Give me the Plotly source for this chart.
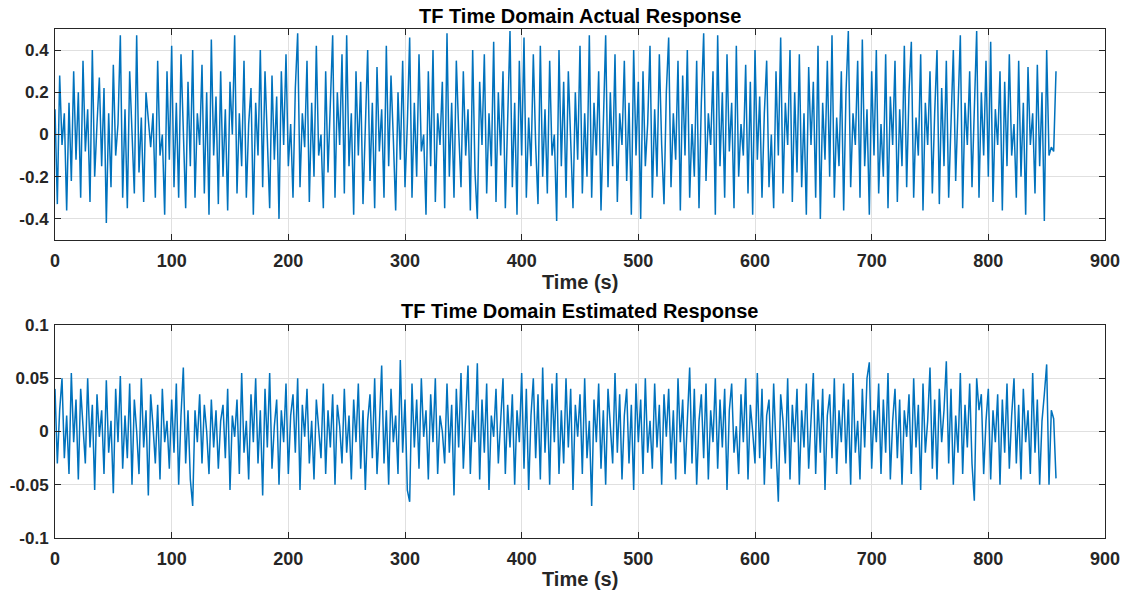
import plotly.graph_objects as go

# time stamps (s)
time_s = list(range(0, 860, 2))

actual = [
 0.12, -0.33, 0.28, -0.05, 0.1, -0.36, 0.15, -0.22, 0.3, -0.12,
 0.2, -0.3, 0.35, -0.08, 0.12, -0.32, 0.4, -0.2, 0.05, 0.27,
 -0.15, 0.22, -0.42, 0.1, -0.25, 0.33, -0.1, 0.05, 0.47, -0.3,
 0.12, -0.35, 0.3, -0.02, -0.28, 0.47, -0.18, 0.08, -0.32, 0.2,
 0.05, -0.06, 0.1, -0.3, 0.35, -0.1, 0.0, -0.38, 0.3, -0.12,
 0.42, -0.25, 0.15, -0.3, 0.38, -0.05, -0.35, 0.25, -0.15, 0.4,
 -0.3, 0.1, -0.05, 0.33, -0.28, 0.2, -0.38, 0.45, -0.1, 0.18,
 -0.33, 0.3, -0.2, 0.12, -0.36, 0.25, 0.0, 0.47, -0.28, 0.1,
 -0.15, 0.35, -0.3, 0.05, 0.22, -0.38, 0.15, -0.1, 0.4, -0.25,
 0.3, -0.02, -0.35, 0.28, -0.12, 0.18, -0.4, 0.3, -0.05, 0.38,
 -0.15, 0.05, -0.3, 0.22, 0.48, -0.25, 0.1, -0.06, 0.35, -0.32,
 0.15, -0.2, 0.42, -0.1, 0.0, -0.35, 0.3, -0.18, 0.12, 0.47,
 -0.3, 0.2, -0.05, 0.38, -0.28, 0.47, -0.15, 0.1, -0.38, 0.3,
 -0.1, 0.25, -0.33, 0.05, 0.4, -0.22, 0.15, -0.35, 0.32, -0.08,
 0.12, -0.3, 0.42, -0.15, 0.28, -0.02, -0.36, 0.2, -0.12, 0.35,
 -0.25, 0.05, 0.46, -0.3, 0.15, -0.2, 0.38, -0.08, 0.0, -0.38,
 0.3, -0.15, 0.4, -0.32, 0.1, -0.05, 0.25, -0.35, 0.48, -0.2,
 0.15, -0.3, 0.35, 0.02, -0.25, 0.3, -0.1, 0.12, -0.36, 0.4,
 -0.18, -0.4, 0.25, -0.05, 0.38, -0.28, 0.1, -0.15, 0.44, -0.32,
 0.2, -0.1, 0.3, -0.35, 0.05, 0.49, -0.25, 0.15, -0.38, 0.35,
 -0.1, 0.46, -0.3, 0.08, -0.15, 0.38, -0.05, -0.33, 0.42, -0.2,
 0.12, -0.28, 0.35, -0.1, 0.0, -0.41, 0.4, -0.15, 0.25, -0.3,
 0.3, -0.05, -0.35, 0.2, -0.12, 0.42, -0.28, 0.1, -0.2, 0.47,
 -0.3, 0.15, -0.1, 0.3, -0.36, 0.05, 0.47, -0.25, 0.2, -0.15,
 0.38, -0.32, 0.1, -0.05, 0.35, -0.22, 0.15, -0.38, 0.4, -0.1,
 0.25, -0.4, 0.3, -0.15, 0.05, 0.42, -0.3, 0.12, -0.2, 0.38,
 -0.05, -0.33, 0.2, 0.46, -0.25, 0.1, -0.12, 0.35, -0.36, 0.28,
 -0.1, 0.4, -0.3, 0.05, -0.2, 0.35, -0.35, 0.15, 0.48, -0.22,
 0.1, -0.05, 0.3, -0.38, 0.47, -0.15, 0.2, -0.3, 0.38, -0.08,
 0.15, -0.35, 0.42, -0.2, 0.05, -0.1, 0.33, -0.28, 0.25, -0.38,
 0.4, -0.12, 0.18, -0.3, 0.1, 0.35, -0.25, 0.0, -0.35, 0.3,
 -0.1, 0.46, -0.28, 0.15, -0.05, 0.4, -0.32, 0.2, -0.18, 0.38,
 -0.25, 0.1, -0.38, 0.32, -0.05, 0.25, -0.3, 0.42, -0.4, 0.15,
 -0.12, 0.35, -0.2, 0.47, -0.3, 0.08, -0.15, 0.3, -0.36, 0.2,
 0.49, -0.25, 0.1, -0.05, 0.35, -0.3, 0.45, -0.15, 0.12, -0.38,
 0.3, -0.1, 0.4, -0.28, 0.05, -0.2, 0.38, -0.35, 0.18, -0.05,
 0.35, -0.32, 0.12, -0.15, 0.42, -0.25, 0.2, 0.44, -0.3, 0.08,
 -0.1, 0.38, -0.36, 0.15, -0.05, 0.3, -0.28, 0.1, 0.4, -0.33,
 0.22, -0.15, 0.35, -0.3, 0.05, 0.4, -0.22, 0.12, 0.47, -0.35,
 0.15, -0.05, 0.3, -0.25, 0.1, 0.49, -0.3, 0.2, -0.1, 0.35,
 -0.2, 0.44, -0.32, 0.12, -0.05, 0.3, -0.36, 0.25, -0.15, 0.38,
 -0.1, 0.05, -0.3, 0.35, -0.2, 0.15, -0.38, 0.32, -0.05, 0.1,
 -0.28, 0.33, -0.15, 0.2, -0.41, 0.4, -0.1, -0.06, -0.08, 0.3,
]

estimated = [
 0.04, -0.03, 0.02, 0.05, -0.025, 0.015, -0.04, 0.055, -0.01, 0.03,
 -0.045, 0.04, 0.005, -0.03, 0.05, -0.015, 0.025, -0.055, 0.035, -0.005,
 0.02, -0.04, 0.048, -0.02, 0.01, -0.058, 0.04, -0.01, 0.052, -0.035,
 0.015, -0.025, 0.045, -0.05, 0.03, 0.0, -0.04, 0.05, -0.015, 0.02,
 -0.06, 0.035, 0.005, -0.03, 0.025, -0.045, 0.04, -0.01, 0.01, -0.035,
 0.03, -0.02, 0.045, -0.05, 0.015, 0.06, -0.03, 0.02, -0.045, -0.07,
 0.02, -0.01, 0.035, -0.03, 0.025, 0.0, -0.04, 0.03, -0.015, 0.02,
 -0.035, 0.01, 0.025, -0.025, 0.04, -0.055, 0.015, -0.005, 0.03, -0.04,
 0.055, -0.02, 0.01, -0.045, 0.035, -0.01, 0.05, -0.03, 0.02, -0.06,
 0.04, -0.015, 0.055, -0.035, 0.005, 0.03, -0.05, 0.02, -0.01, 0.045,
 -0.04, 0.015, 0.035, -0.02, 0.05, -0.055, 0.025, -0.005, 0.04, -0.03,
 0.01, -0.045, 0.03, 0.0, -0.025, 0.045, -0.04, 0.02, -0.015, 0.035,
 -0.05, 0.025, 0.005, -0.03, 0.04, -0.02, 0.015, -0.045, 0.03, -0.01,
 0.045, -0.035, 0.02, -0.055, 0.01, 0.035, -0.025, 0.05, -0.04, 0.005,
 0.062, -0.03, 0.02, -0.05, 0.04, -0.01, 0.015, -0.04, 0.067, -0.02,
 0.03, -0.055, -0.066, 0.045, -0.015, 0.03, -0.035, 0.05, -0.005, 0.02,
 -0.045, 0.035, -0.01, 0.05, -0.04, 0.015, 0.0, -0.03, 0.045, -0.02,
 0.025, -0.06, 0.04, -0.015, 0.055, -0.035, 0.01, 0.062, -0.04, 0.02,
 -0.01, 0.064, -0.045, 0.03, -0.02, 0.045, -0.055, 0.015, -0.005, 0.04,
 -0.03, 0.01, 0.05, -0.04, 0.025, -0.015, 0.035, -0.05, 0.02, -0.01,
 0.055, -0.035, 0.04, -0.055, 0.015, 0.05, -0.025, 0.035, -0.045, 0.06,
 -0.02, 0.03, -0.05, 0.045, -0.01, 0.055, -0.04, 0.02, -0.03, 0.05,
 -0.015, 0.04, -0.055, 0.025, -0.005, 0.035, -0.04, 0.05, -0.025, 0.01,
 -0.07, 0.03, -0.01, 0.045, -0.035, 0.02, -0.05, 0.04, 0.0, -0.03,
 0.055, -0.02, 0.035, -0.045, 0.015, 0.04, -0.03, 0.025, -0.055, 0.045,
 -0.01, 0.03, -0.04, 0.05, -0.02, 0.01, -0.035, 0.045, -0.015, 0.025,
 -0.05, 0.035, -0.005, 0.04, -0.03, 0.02, -0.045, 0.05, -0.01, 0.03,
 -0.04, 0.015, 0.06, -0.03, 0.04, -0.05, 0.01, 0.035, -0.025, 0.045,
 -0.045, 0.02, -0.01, 0.05, -0.035, 0.03, -0.015, 0.04, -0.055, 0.02,
 0.045, -0.02, 0.005, -0.04, 0.035, -0.01, 0.05, -0.045, 0.025, 0.0,
 -0.03, 0.055, -0.025, 0.04, -0.05, 0.015, 0.03, -0.035, 0.045, -0.015,
 -0.066, 0.035, 0.01, -0.03, 0.05, -0.045, 0.025, -0.01, 0.04, -0.05,
 0.02, -0.015, 0.045, -0.035, 0.01, 0.055, -0.04, 0.03, -0.02, 0.04,
 -0.055, 0.015, 0.035, -0.025, 0.05, -0.04, 0.02, -0.01, 0.045, -0.03,
 0.03, -0.05, 0.055, -0.02, 0.01, -0.045, 0.04, -0.015, 0.05, 0.065,
 -0.035, 0.02, -0.01, 0.045, -0.04, 0.03, -0.02, 0.055, -0.045, 0.01,
 0.04, -0.025, 0.03, -0.05, 0.02, -0.005, 0.035, -0.04, 0.05, -0.015,
 0.025, -0.055, 0.045, -0.02, 0.01, 0.06, -0.035, 0.03, -0.045, 0.04,
 -0.01, 0.02, 0.066, -0.03, 0.04, -0.05, 0.015, -0.02, 0.055, -0.04,
 0.025, -0.015, 0.045, -0.03, -0.065, 0.05, 0.02, 0.035, -0.04, 0.01,
 0.04, -0.045, 0.02, -0.01, 0.035, -0.05, 0.03, -0.02, 0.045, -0.035,
 0.015, 0.05, -0.03, 0.025, -0.045, 0.04, -0.01, 0.02, -0.04, 0.055,
 -0.02, 0.03, -0.05, 0.01, 0.035, 0.063, -0.05, 0.02, 0.012, -0.044,
]

x_ticks = [0, 100, 200, 300, 400, 500, 600, 700, 800, 900]
y1_ticks = [-0.4, -0.2, 0, 0.2, 0.4]
y1_labels = ["-0.4", "-0.2", "0", "0.2", "0.4"]
y2_ticks = [-0.1, -0.05, 0, 0.05, 0.1]
y2_labels = ["-0.1", "-0.05", "0", "0.05", "0.1"]

titles = ["TF Time Domain Actual Response", "TF Time Domain Estimated Response"]
xlabel = "Time (s)"

LINE = "#0072BD"
AX = "#262626"
GRID = "#e0e0e0"
FONT = "Liberation Sans, Arial, sans-serif"

fig = go.Figure()
fig.add_trace(go.Scatter(x=time_s, y=actual, mode="lines",
                         line=dict(color=LINE, width=1.5),
                         xaxis="x", yaxis="y", showlegend=False))
fig.add_trace(go.Scatter(x=time_s, y=estimated, mode="lines",
                         line=dict(color=LINE, width=1.5),
                         xaxis="x2", yaxis="y2", showlegend=False))


def axis_style(size):
    return dict(showline=True, linecolor=AX, linewidth=1, mirror="allticks",
                ticks="inside", ticklen=6, tickcolor=AX, tickwidth=1,
                showgrid=True, gridcolor=GRID, gridwidth=1, zeroline=False,
                automargin=False,
                tickfont=dict(family=FONT, size=size, color=AX, weight="bold"))


fig.update_layout(
    width=1126, height=594,
    paper_bgcolor="white", plot_bgcolor="white",
    margin=dict(l=55, r=21, t=29, b=56),
    xaxis=dict(domain=[0, 1], range=[0, 900], tickvals=x_ticks, anchor="y",
               ticklabelstandoff=4, **axis_style(18)),
    yaxis=dict(domain=[0.5855, 1], range=[-0.5, 0.5], tickvals=y1_ticks, ticktext=y1_labels,
               anchor="x", ticklabelstandoff=2, **axis_style(17)),
    xaxis2=dict(domain=[0, 1], range=[0, 900], tickvals=x_ticks, anchor="y2",
                ticklabelstandoff=4, **axis_style(18)),
    yaxis2=dict(domain=[0, 0.4185], range=[-0.1, 0.1], tickvals=y2_ticks, ticktext=y2_labels,
                anchor="x2", ticklabelstandoff=2, **axis_style(17)),
    annotations=[
        dict(text="<b>%s</b>" % titles[0], x=0.5, y=1.0255, xref="paper", yref="paper",
             showarrow=False, font=dict(family=FONT, size=20, color="black"), yanchor="middle"),
        dict(text="<b>%s</b>" % titles[1], x=0.5, y=0.446, xref="paper", yref="paper",
             showarrow=False, font=dict(family=FONT, size=20, color="black"), yanchor="middle"),
        dict(text="<b>%s</b>" % xlabel, x=0.5, y=0.503, xref="paper", yref="paper",
             showarrow=False, font=dict(family=FONT, size=20, color=AX), yanchor="middle"),
        dict(text="<b>%s</b>" % xlabel, x=0.5, y=-0.0805, xref="paper", yref="paper",
             showarrow=False, font=dict(family=FONT, size=20, color=AX), yanchor="middle"),
    ],
)

fig.write_html("out.html")
